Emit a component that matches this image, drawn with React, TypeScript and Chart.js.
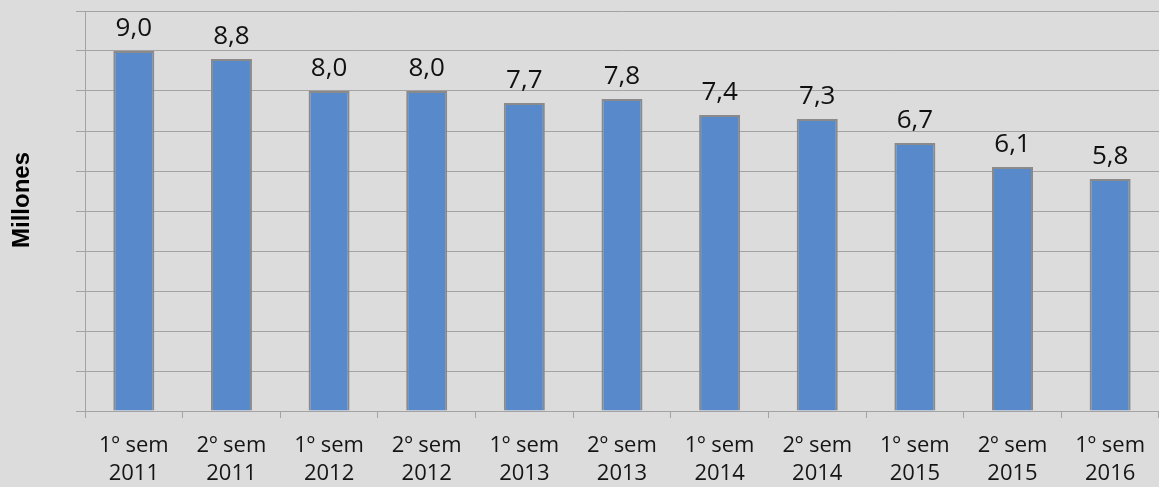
import React, { useEffect, useRef } from "react";
import { Chart, registerables } from "chart.js";

Chart.register(...registerables);

const categories: string[][] = [
  ["1º sem", "2011"], ["2º sem", "2011"], ["1º sem", "2012"], ["2º sem", "2012"],
  ["1º sem", "2013"], ["2º sem", "2013"], ["1º sem", "2014"], ["2º sem", "2014"],
  ["1º sem", "2015"], ["2º sem", "2015"], ["1º sem", "2016"],
];
const values: number[] = [9.0, 8.8, 8.0, 8.0, 7.7, 7.8, 7.4, 7.3, 6.7, 6.1, 5.8];
const yTitle = "Millones";

const BG = "#dcdcdc";
const GRID = "#a3a3a3";

export default function App() {
  const ref = useRef<HTMLCanvasElement | null>(null);
  useEffect(() => {
    document.body.style.margin = "0";
    document.body.style.background = BG;
    const canvas = ref.current!;
    const labelPlugin = {
      id: "valueLabels",
      afterDatasetsDraw(chart: any) {
        const ctx = chart.ctx;
        const meta = chart.getDatasetMeta(0);
        ctx.save();
        ctx.font = "26px 'Open Sans'";
        ctx.fillStyle = "#111";
        ctx.textAlign = "center";
        ctx.textBaseline = "alphabetic";
        meta.data.forEach((bar: any, i: number) => {
          ctx.fillText(values[i].toFixed(1).replace(".", ","), bar.x, bar.y - 15);
        });
        ctx.restore();
      },
    };
    const titlePlugin = {
      id: "yTitle",
      afterDraw(chart: any) {
        const ctx = chart.ctx;
        ctx.save();
        ctx.translate(22, 200);
        ctx.rotate(-Math.PI / 2);
        ctx.font = "bold 24px 'Liberation Sans'";
        ctx.fillStyle = "#000";
        ctx.textAlign = "center";
        ctx.textBaseline = "middle";
        ctx.fillText(yTitle, 0, 0);
        ctx.restore();
      },
    };
    const chart = new Chart(canvas, {
      type: "bar",
      data: {
        labels: categories,
        datasets: [
          {
            data: values,
            backgroundColor: "#5789cb",
            borderColor: "#8a8a8a",
            borderWidth: 2,
            barPercentage: 0.42,
            categoryPercentage: 1,
          },
        ],
      },
      options: {
        animation: false,
        responsive: false,
        maintainAspectRatio: false,
        layout: { padding: { top: 11, right: 0, bottom: 0, left: 0 } },
        plugins: { legend: { display: false }, tooltip: { enabled: false } },
        scales: {
          y: {
            min: 0,
            max: 10,
            ticks: { display: false, stepSize: 1 },
            grid: { color: GRID, lineWidth: 1, tickLength: 9 },
            border: { color: GRID, width: 1 },
            afterFit(scale: any) {
              scale.width = 85;
            },
          },
          x: {
            offset: true,
            grid: { color: GRID, drawOnChartArea: false, tickLength: 7, offset: true },
            border: { color: GRID, width: 1 },
            ticks: {
              color: "#151515",
              font: { family: "'Open Sans'", size: 22, lineHeight: 1.25 },
              padding: 14,
              maxRotation: 0,
              autoSkip: false,
            },
            afterFit(scale: any) {
              scale.height = 76;
            },
          },
        },
      },
      plugins: [labelPlugin, titlePlugin],
    });
    return () => chart.destroy();
  }, []);
  return (
    <div style={{ width: 1159, height: 487, background: BG }}>
      <canvas ref={ref} width={1159} height={487} style={{ display: "block" }} />
    </div>
  );
}
